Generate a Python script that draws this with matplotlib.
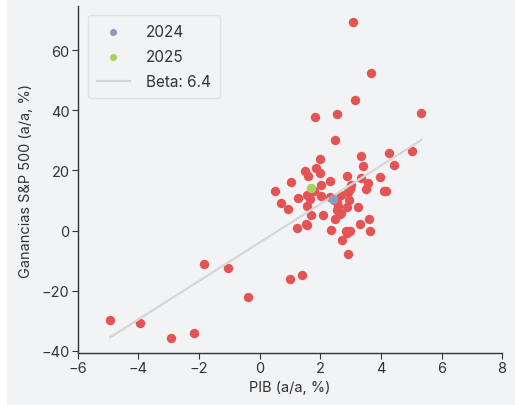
import matplotlib
matplotlib.use("Agg")
import matplotlib.pyplot as plt
import numpy as np

plt.rcParams['font.family'] = ['Inter', 'DejaVu Sans']

# Historical points: GDP growth (x) vs S&P 500 earnings growth (y)
gdp_hist = [-4.93, -3.95, -2.92, -2.15, -1.83, -1.03, -0.38,
            1.01, 1.40, 2.92, 2.71, 1.23, 1.52, 2.35, 2.89, 2.97, 3.32, 3.64, 3.61,
            3.09, 3.68, 3.16, 2.56, 1.84, 5.34, 2.48,
            5.03, 4.26, 4.44, 3.36, 3.41, 2.00, 1.49, 1.87, 1.99, 1.03, 1.59, 2.87,
            2.32, 2.02, 3.36, 3.97, 3.58, 3.52, 4.10, 4.18, 3.01, 2.92, 0.50, 0.69,
            0.94, 1.27, 1.55, 1.55, 1.66, 1.80, 2.01, 2.32, 2.54, 2.68, 2.95, 2.89,
            3.25, 1.69, 2.10, 2.54, 2.65, 2.48, 1.55, 2.98, 2.70, 2.86, 2.45, 2.60]
eps_hist = [-29.7, -30.8, -35.7, -34.0, -11.2, -12.4, -22.2,
            -16.2, -14.7, -7.8, -3.2, 1.0, 2.2, 0.3, -0.8, -0.3, 2.2, -0.3, 3.9,
            69.3, 52.5, 43.5, 38.8, 37.7, 39.2, 30.3,
            26.6, 25.9, 21.8, 24.7, 21.5, 23.8, 19.9, 20.8, 19.0, 16.0, 18.1, 18.2,
            16.5, 15.0, 17.5, 17.8, 15.9, 13.9, 13.2, 13.3, 15.0, 12.8, 13.1, 9.3,
            7.0, 10.8, 11.7, 8.3, 10.6, 13.3, 11.5, 11.3, 9.5, 11.7, 10.0, 7.8,
            7.8, 5.2, 5.3, 6.7, 5.6, 3.9, 1.9, 13.9, 5.9, 0.0, 10.0, 8.0]

gdp_2024 = [2.41]
eps_2024 = [10.6]
gdp_2025 = [1.71]
eps_2025 = [14.2]

beta = 6.4
intercept = -4.0

x_ticks = [-6, -4, -2, 0, 2, 4, 6, 8]
y_ticks = [-40, -20, 0, 20, 40, 60]

bg = '#F2F3F5'
red = '#E55454'
blue = '#8E9AC0'
green = '#A6D25A'
line_c = '#D6D6D6'
txt = '#333333'

fig = plt.figure(figsize=(5.15, 4.06), dpi=100, facecolor=bg)
# thin white strip on the left edge, as in the reference image
fig.patches.append(plt.Rectangle((0, 0), 7 / 515, 1, transform=fig.transFigure,
                                 facecolor='white', edgecolor='none', zorder=0))
ax = fig.add_axes([0.151, 0.128, 0.824, 0.855], facecolor=bg)

ax.scatter(gdp_hist, eps_hist, s=46, color=red, linewidths=0, zorder=2)
xl = np.array([min(gdp_hist), max(gdp_hist)])
ax.plot(xl, intercept + beta * xl, color=line_c, lw=1.6, zorder=3,
        label=f'Beta: {beta}')
ax.scatter(gdp_2024, eps_2024, s=46, color=blue, linewidths=0, zorder=4, label='2024')
ax.scatter(gdp_2025, eps_2025, s=46, color=green, linewidths=0, zorder=4, label='2025')

ax.set_xlim(-6, 8)
ax.set_ylim(-40.8, 74.8)
ax.set_xticks(x_ticks)
ax.set_yticks(y_ticks)
ax.set_xticklabels([str(v).replace('-', '\u2212') for v in x_ticks])
ax.set_yticklabels([str(v).replace('-', '\u2212') for v in y_ticks])

for s in ['top', 'right']:
    ax.spines[s].set_visible(False)
for s in ['left', 'bottom']:
    ax.spines[s].set_color('#333333')
    ax.spines[s].set_linewidth(1.0)
ax.tick_params(colors=txt, labelsize=10.5, length=4, width=0.8, pad=2)

ax.set_xlabel('PIB (a/a, %)', fontsize=10.5, color=txt, labelpad=3)
ax.set_ylabel('Ganancias S&P 500 (a/a, %)', fontsize=10.5, color=txt, labelpad=6)

handles, labels = ax.get_legend_handles_labels()
order = [labels.index('2024'), labels.index('2025'), labels.index(f'Beta: {beta}')]
leg = ax.legend([handles[i] for i in order], [labels[i] for i in order],
                loc='upper left', bbox_to_anchor=(0.005, 0.995), fontsize=11,
                frameon=True, fancybox=True, facecolor=bg, edgecolor='#DDDDDD',
                markerscale=0.75, handlelength=2.2, handletextpad=1.0,
                borderpad=0.6, labelspacing=0.65)
for t in leg.get_texts():
    t.set_color(txt)

fig.savefig('out.png', dpi=100, facecolor=bg)
